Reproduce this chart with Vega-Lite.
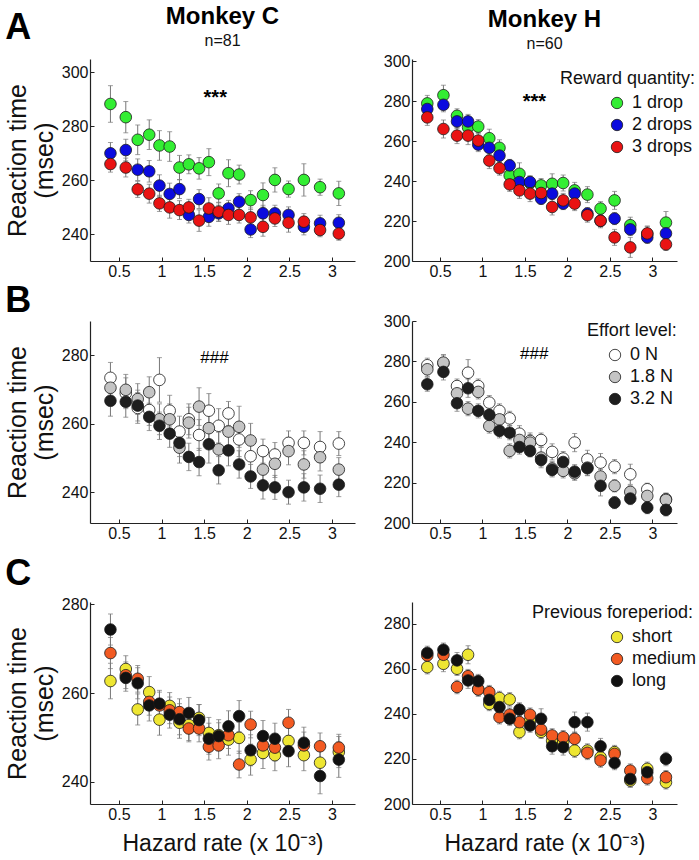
{
"$schema":"https://vega.github.io/schema/vega-lite/v6.json",
"padding":{"left":5,"top":5,"right":0,"bottom":0},
"datasets":{
"aL":[
{"x":0.40,"rt":288.3,"se":6.8,"g":"1 drop"},{"x":0.58,"rt":283.4,"se":5.8,"g":"1 drop"},{"x":0.72,"rt":275.0,"se":5.5,"g":"1 drop"},{"x":0.855,"rt":276.9,"se":5.5,"g":"1 drop"},{"x":0.975,"rt":272.9,"se":5.5,"g":"1 drop"},{"x":1.095,"rt":272.5,"se":5.5,"g":"1 drop"},{"x":1.21,"rt":264.7,"se":4.5,"g":"1 drop"},{"x":1.32,"rt":265.9,"se":3.5,"g":"1 drop"},{"x":1.44,"rt":264.4,"se":4.0,"g":"1 drop"},{"x":1.555,"rt":266.7,"se":5.0,"g":"1 drop"},{"x":1.67,"rt":255.1,"se":3.5,"g":"1 drop"},{"x":1.785,"rt":262.6,"se":5.0,"g":"1 drop"},{"x":1.91,"rt":262.1,"se":3.5,"g":"1 drop"},{"x":2.045,"rt":252.6,"se":3.5,"g":"1 drop"},{"x":2.19,"rt":254.5,"se":4.5,"g":"1 drop"},{"x":2.33,"rt":260.1,"se":4.5,"g":"1 drop"},{"x":2.49,"rt":256.7,"se":3.0,"g":"1 drop"},{"x":2.67,"rt":260.1,"se":6.0,"g":"1 drop"},{"x":2.86,"rt":257.4,"se":3.0,"g":"1 drop"},{"x":3.08,"rt":255.1,"se":4.5,"g":"1 drop"},
{"x":0.40,"rt":270.0,"se":4.0,"g":"2 drops"},{"x":0.58,"rt":271.2,"se":4.0,"g":"2 drops"},{"x":0.72,"rt":263.9,"se":4.0,"g":"2 drops"},{"x":0.855,"rt":263.3,"se":4.0,"g":"2 drops"},{"x":0.975,"rt":258.0,"se":4.0,"g":"2 drops"},{"x":1.095,"rt":254.9,"se":4.0,"g":"2 drops"},{"x":1.21,"rt":256.7,"se":3.5,"g":"2 drops"},{"x":1.32,"rt":247.1,"se":3.0,"g":"2 drops"},{"x":1.44,"rt":253.0,"se":3.5,"g":"2 drops"},{"x":1.555,"rt":246.4,"se":3.5,"g":"2 drops"},{"x":1.67,"rt":247.7,"se":3.0,"g":"2 drops"},{"x":1.785,"rt":249.5,"se":3.0,"g":"2 drops"},{"x":1.91,"rt":252.0,"se":3.0,"g":"2 drops"},{"x":2.045,"rt":241.7,"se":3.0,"g":"2 drops"},{"x":2.19,"rt":247.7,"se":3.0,"g":"2 drops"},{"x":2.33,"rt":247.7,"se":3.0,"g":"2 drops"},{"x":2.49,"rt":247.1,"se":3.0,"g":"2 drops"},{"x":2.67,"rt":242.7,"se":3.0,"g":"2 drops"},{"x":2.86,"rt":244.0,"se":3.0,"g":"2 drops"},{"x":3.08,"rt":244.2,"se":3.0,"g":"2 drops"},
{"x":0.40,"rt":266.0,"se":3.0,"g":"3 drops"},{"x":0.58,"rt":264.7,"se":3.5,"g":"3 drops"},{"x":0.72,"rt":256.6,"se":3.0,"g":"3 drops"},{"x":0.855,"rt":255.0,"se":3.5,"g":"3 drops"},{"x":0.975,"rt":251.4,"se":3.0,"g":"3 drops"},{"x":1.095,"rt":249.9,"se":4.0,"g":"3 drops"},{"x":1.21,"rt":248.9,"se":3.5,"g":"3 drops"},{"x":1.32,"rt":249.9,"se":3.0,"g":"3 drops"},{"x":1.44,"rt":245.0,"se":4.0,"g":"3 drops"},{"x":1.555,"rt":249.5,"se":4.0,"g":"3 drops"},{"x":1.67,"rt":248.3,"se":3.5,"g":"3 drops"},{"x":1.785,"rt":247.1,"se":3.5,"g":"3 drops"},{"x":1.91,"rt":247.1,"se":3.0,"g":"3 drops"},{"x":2.045,"rt":246.2,"se":3.5,"g":"3 drops"},{"x":2.19,"rt":242.7,"se":3.5,"g":"3 drops"},{"x":2.33,"rt":245.8,"se":3.0,"g":"3 drops"},{"x":2.49,"rt":244.2,"se":3.5,"g":"3 drops"},{"x":2.67,"rt":244.6,"se":3.0,"g":"3 drops"},{"x":2.86,"rt":241.5,"se":2.5,"g":"3 drops"},{"x":3.08,"rt":240.2,"se":2.5,"g":"3 drops"}
],
"aR":[
{"x":0.35,"rt":278.8,"se":4.0,"g":"1 drop"},{"x":0.54,"rt":282.9,"se":5.0,"g":"1 drop"},{"x":0.70,"rt":272.6,"se":3.5,"g":"1 drop"},{"x":0.83,"rt":266.8,"se":5.0,"g":"1 drop"},{"x":0.95,"rt":267.2,"se":3.5,"g":"1 drop"},{"x":1.08,"rt":261.4,"se":4.5,"g":"1 drop"},{"x":1.20,"rt":256.6,"se":4.0,"g":"1 drop"},{"x":1.32,"rt":242.8,"se":3.5,"g":"1 drop"},{"x":1.435,"rt":243.6,"se":5.5,"g":"1 drop"},{"x":1.56,"rt":239.0,"se":3.5,"g":"1 drop"},{"x":1.69,"rt":237.8,"se":3.5,"g":"1 drop"},{"x":1.82,"rt":238.6,"se":5.0,"g":"1 drop"},{"x":1.95,"rt":239.0,"se":4.0,"g":"1 drop"},{"x":2.085,"rt":235.3,"se":4.0,"g":"1 drop"},{"x":2.235,"rt":233.2,"se":4.0,"g":"1 drop"},{"x":2.39,"rt":226.2,"se":3.5,"g":"1 drop"},{"x":2.555,"rt":230.3,"se":4.5,"g":"1 drop"},{"x":2.74,"rt":217.9,"se":4.0,"g":"1 drop"},{"x":2.94,"rt":213.5,"se":4.0,"g":"1 drop"},{"x":3.16,"rt":219.2,"se":5.5,"g":"1 drop"},
{"x":0.35,"rt":276.0,"se":3.5,"g":"2 drops"},{"x":0.54,"rt":278.1,"se":3.5,"g":"2 drops"},{"x":0.70,"rt":269.8,"se":3.5,"g":"2 drops"},{"x":0.83,"rt":269.8,"se":3.5,"g":"2 drops"},{"x":0.95,"rt":258.2,"se":3.5,"g":"2 drops"},{"x":1.08,"rt":256.6,"se":3.5,"g":"2 drops"},{"x":1.20,"rt":252.7,"se":3.5,"g":"2 drops"},{"x":1.32,"rt":247.8,"se":3.0,"g":"2 drops"},{"x":1.435,"rt":239.5,"se":3.0,"g":"2 drops"},{"x":1.56,"rt":239.5,"se":3.0,"g":"2 drops"},{"x":1.69,"rt":231.2,"se":3.0,"g":"2 drops"},{"x":1.82,"rt":233.7,"se":3.0,"g":"2 drops"},{"x":1.95,"rt":228.7,"se":3.0,"g":"2 drops"},{"x":2.085,"rt":233.7,"se":3.0,"g":"2 drops"},{"x":2.235,"rt":223.7,"se":3.0,"g":"2 drops"},{"x":2.39,"rt":220.1,"se":3.0,"g":"2 drops"},{"x":2.555,"rt":221.2,"se":3.0,"g":"2 drops"},{"x":2.74,"rt":215.8,"se":3.0,"g":"2 drops"},{"x":2.94,"rt":211.8,"se":3.0,"g":"2 drops"},{"x":3.16,"rt":213.8,"se":3.0,"g":"2 drops"},
{"x":0.35,"rt":271.8,"se":4.0,"g":"3 drops"},{"x":0.54,"rt":266.0,"se":4.5,"g":"3 drops"},{"x":0.70,"rt":262.7,"se":4.0,"g":"3 drops"},{"x":0.83,"rt":262.7,"se":4.5,"g":"3 drops"},{"x":0.95,"rt":260.2,"se":4.0,"g":"3 drops"},{"x":1.08,"rt":250.2,"se":4.0,"g":"3 drops"},{"x":1.20,"rt":246.4,"se":3.5,"g":"3 drops"},{"x":1.32,"rt":238.3,"se":3.5,"g":"3 drops"},{"x":1.435,"rt":235.3,"se":4.0,"g":"3 drops"},{"x":1.56,"rt":233.7,"se":4.0,"g":"3 drops"},{"x":1.69,"rt":234.0,"se":3.5,"g":"3 drops"},{"x":1.82,"rt":227.0,"se":4.0,"g":"3 drops"},{"x":1.95,"rt":230.3,"se":3.5,"g":"3 drops"},{"x":2.085,"rt":228.7,"se":3.5,"g":"3 drops"},{"x":2.235,"rt":222.9,"se":3.5,"g":"3 drops"},{"x":2.39,"rt":220.1,"se":3.5,"g":"3 drops"},{"x":2.555,"rt":211.8,"se":4.0,"g":"3 drops"},{"x":2.74,"rt":206.8,"se":5.0,"g":"3 drops"},{"x":2.94,"rt":213.8,"se":3.5,"g":"3 drops"},{"x":3.16,"rt":208.3,"se":3.0,"g":"3 drops"}
],
"bL":[
{"x":0.40,"rt":273.4,"se":4.5,"g":"0 N"},{"x":0.58,"rt":268.9,"se":4.5,"g":"0 N"},{"x":0.72,"rt":264.6,"se":4.5,"g":"0 N"},{"x":0.855,"rt":264.0,"se":4.5,"g":"0 N"},{"x":0.975,"rt":272.8,"se":6.5,"g":"0 N"},{"x":1.095,"rt":263.8,"se":4.5,"g":"0 N"},{"x":1.21,"rt":257.7,"se":4.5,"g":"0 N"},{"x":1.32,"rt":261.3,"se":4.5,"g":"0 N"},{"x":1.44,"rt":256.7,"se":4.5,"g":"0 N"},{"x":1.555,"rt":263.8,"se":5.0,"g":"0 N"},{"x":1.67,"rt":259.4,"se":5.0,"g":"0 N"},{"x":1.785,"rt":263.0,"se":3.5,"g":"0 N"},{"x":1.91,"rt":255.4,"se":5.0,"g":"0 N"},{"x":2.045,"rt":250.5,"se":4.5,"g":"0 N"},{"x":2.19,"rt":252.0,"se":3.5,"g":"0 N"},{"x":2.33,"rt":251.0,"se":3.5,"g":"0 N"},{"x":2.49,"rt":254.4,"se":3.5,"g":"0 N"},{"x":2.67,"rt":254.4,"se":3.5,"g":"0 N"},{"x":2.86,"rt":253.2,"se":4.5,"g":"0 N"},{"x":3.08,"rt":254.2,"se":3.5,"g":"0 N"},
{"x":0.40,"rt":270.5,"se":4.0,"g":"1.8 N"},{"x":0.58,"rt":269.9,"se":4.5,"g":"1.8 N"},{"x":0.72,"rt":267.2,"se":4.5,"g":"1.8 N"},{"x":0.855,"rt":269.2,"se":4.5,"g":"1.8 N"},{"x":0.975,"rt":261.3,"se":4.5,"g":"1.8 N"},{"x":1.095,"rt":261.3,"se":4.5,"g":"1.8 N"},{"x":1.21,"rt":253.0,"se":4.5,"g":"1.8 N"},{"x":1.32,"rt":260.3,"se":4.5,"g":"1.8 N"},{"x":1.44,"rt":265.0,"se":5.5,"g":"1.8 N"},{"x":1.555,"rt":258.7,"se":4.5,"g":"1.8 N"},{"x":1.67,"rt":252.5,"se":5.0,"g":"1.8 N"},{"x":1.785,"rt":257.7,"se":5.0,"g":"1.8 N"},{"x":1.91,"rt":259.1,"se":6.0,"g":"1.8 N"},{"x":2.045,"rt":255.1,"se":5.0,"g":"1.8 N"},{"x":2.19,"rt":246.6,"se":4.0,"g":"1.8 N"},{"x":2.33,"rt":248.3,"se":4.0,"g":"1.8 N"},{"x":2.49,"rt":252.0,"se":4.0,"g":"1.8 N"},{"x":2.67,"rt":248.1,"se":4.0,"g":"1.8 N"},{"x":2.86,"rt":250.2,"se":4.0,"g":"1.8 N"},{"x":3.08,"rt":246.6,"se":3.5,"g":"1.8 N"},
{"x":0.40,"rt":266.7,"se":4.5,"g":"3.2 N"},{"x":0.58,"rt":266.4,"se":4.5,"g":"3.2 N"},{"x":0.72,"rt":265.3,"se":4.5,"g":"3.2 N"},{"x":0.855,"rt":262.0,"se":4.0,"g":"3.2 N"},{"x":0.975,"rt":259.4,"se":4.0,"g":"3.2 N"},{"x":1.095,"rt":257.1,"se":4.0,"g":"3.2 N"},{"x":1.21,"rt":254.4,"se":4.0,"g":"3.2 N"},{"x":1.32,"rt":250.3,"se":4.0,"g":"3.2 N"},{"x":1.44,"rt":248.8,"se":4.0,"g":"3.2 N"},{"x":1.555,"rt":254.0,"se":5.5,"g":"3.2 N"},{"x":1.67,"rt":246.4,"se":4.0,"g":"3.2 N"},{"x":1.785,"rt":252.2,"se":4.5,"g":"3.2 N"},{"x":1.91,"rt":248.1,"se":4.0,"g":"3.2 N"},{"x":2.045,"rt":244.6,"se":3.5,"g":"3.2 N"},{"x":2.19,"rt":242.0,"se":4.0,"g":"3.2 N"},{"x":2.33,"rt":241.4,"se":3.5,"g":"3.2 N"},{"x":2.49,"rt":240.0,"se":3.5,"g":"3.2 N"},{"x":2.67,"rt":241.4,"se":4.0,"g":"3.2 N"},{"x":2.86,"rt":241.0,"se":4.0,"g":"3.2 N"},{"x":3.08,"rt":242.2,"se":3.5,"g":"3.2 N"}
],
"bR":[
{"x":0.35,"rt":278.1,"se":3.5,"g":"0 N"},{"x":0.54,"rt":279.1,"se":4.0,"g":"0 N"},{"x":0.70,"rt":267.8,"se":3.5,"g":"0 N"},{"x":0.83,"rt":274.4,"se":6.5,"g":"0 N"},{"x":0.95,"rt":267.8,"se":3.5,"g":"0 N"},{"x":1.08,"rt":259.6,"se":3.5,"g":"0 N"},{"x":1.20,"rt":255.5,"se":3.5,"g":"0 N"},{"x":1.32,"rt":251.8,"se":3.5,"g":"0 N"},{"x":1.435,"rt":244.2,"se":4.0,"g":"0 N"},{"x":1.56,"rt":240.6,"se":4.0,"g":"0 N"},{"x":1.69,"rt":241.1,"se":3.5,"g":"0 N"},{"x":1.82,"rt":235.2,"se":4.0,"g":"0 N"},{"x":1.95,"rt":231.9,"se":3.5,"g":"0 N"},{"x":2.085,"rt":239.8,"se":4.5,"g":"0 N"},{"x":2.235,"rt":231.5,"se":4.5,"g":"0 N"},{"x":2.39,"rt":229.9,"se":4.5,"g":"0 N"},{"x":2.555,"rt":227.9,"se":3.5,"g":"0 N"},{"x":2.74,"rt":224.1,"se":5.0,"g":"0 N"},{"x":2.94,"rt":216.7,"se":3.0,"g":"0 N"},{"x":3.16,"rt":211.8,"se":3.0,"g":"0 N"},
{"x":0.35,"rt":276.1,"se":3.5,"g":"1.8 N"},{"x":0.54,"rt":279.4,"se":4.0,"g":"1.8 N"},{"x":0.70,"rt":264.2,"se":3.5,"g":"1.8 N"},{"x":0.83,"rt":256.6,"se":3.5,"g":"1.8 N"},{"x":0.95,"rt":264.9,"se":3.5,"g":"1.8 N"},{"x":1.08,"rt":248.0,"se":3.5,"g":"1.8 N"},{"x":1.20,"rt":251.3,"se":3.5,"g":"1.8 N"},{"x":1.32,"rt":235.7,"se":3.5,"g":"1.8 N"},{"x":1.435,"rt":241.1,"se":3.5,"g":"1.8 N"},{"x":1.56,"rt":239.8,"se":4.0,"g":"1.8 N"},{"x":1.69,"rt":232.4,"se":5.0,"g":"1.8 N"},{"x":1.82,"rt":226.9,"se":3.5,"g":"1.8 N"},{"x":1.95,"rt":225.8,"se":3.5,"g":"1.8 N"},{"x":2.085,"rt":224.6,"se":3.5,"g":"1.8 N"},{"x":2.235,"rt":227.4,"se":4.0,"g":"1.8 N"},{"x":2.39,"rt":223.0,"se":3.5,"g":"1.8 N"},{"x":2.555,"rt":218.4,"se":3.0,"g":"1.8 N"},{"x":2.74,"rt":215.4,"se":3.0,"g":"1.8 N"},{"x":2.94,"rt":213.4,"se":3.0,"g":"1.8 N"},{"x":3.16,"rt":211.4,"se":3.0,"g":"1.8 N"},
{"x":0.35,"rt":268.7,"se":3.5,"g":"3.2 N"},{"x":0.54,"rt":274.8,"se":4.0,"g":"3.2 N"},{"x":0.70,"rt":259.3,"se":4.0,"g":"3.2 N"},{"x":0.83,"rt":266.7,"se":4.5,"g":"3.2 N"},{"x":0.95,"rt":255.5,"se":3.5,"g":"3.2 N"},{"x":1.08,"rt":253.5,"se":3.5,"g":"3.2 N"},{"x":1.20,"rt":245.6,"se":3.5,"g":"3.2 N"},{"x":1.32,"rt":244.7,"se":3.5,"g":"3.2 N"},{"x":1.435,"rt":237.6,"se":3.5,"g":"3.2 N"},{"x":1.56,"rt":235.7,"se":3.0,"g":"3.2 N"},{"x":1.69,"rt":231.2,"se":3.0,"g":"3.2 N"},{"x":1.82,"rt":226.3,"se":3.5,"g":"3.2 N"},{"x":1.95,"rt":230.2,"se":3.0,"g":"3.2 N"},{"x":2.085,"rt":225.4,"se":3.5,"g":"3.2 N"},{"x":2.235,"rt":227.1,"se":3.5,"g":"3.2 N"},{"x":2.39,"rt":218.4,"se":5.0,"g":"3.2 N"},{"x":2.555,"rt":210.1,"se":3.0,"g":"3.2 N"},{"x":2.74,"rt":212.1,"se":3.0,"g":"3.2 N"},{"x":2.94,"rt":207.6,"se":3.0,"g":"3.2 N"},{"x":3.16,"rt":206.5,"se":3.0,"g":"3.2 N"}
],
"cL":[
{"x":0.40,"rt":262.7,"se":4.0,"g":"short"},{"x":0.58,"rt":265.4,"se":3.0,"g":"short"},{"x":0.72,"rt":256.3,"se":3.5,"g":"short"},{"x":0.855,"rt":260.2,"se":3.5,"g":"short"},{"x":0.975,"rt":254.0,"se":3.5,"g":"short"},{"x":1.095,"rt":257.1,"se":3.0,"g":"short"},{"x":1.21,"rt":253.3,"se":3.5,"g":"short"},{"x":1.32,"rt":252.8,"se":3.5,"g":"short"},{"x":1.44,"rt":254.4,"se":3.0,"g":"short"},{"x":1.555,"rt":251.0,"se":3.5,"g":"short"},{"x":1.67,"rt":250.5,"se":3.5,"g":"short"},{"x":1.785,"rt":249.5,"se":3.5,"g":"short"},{"x":1.91,"rt":249.9,"se":3.5,"g":"short"},{"x":2.045,"rt":245.0,"se":3.5,"g":"short"},{"x":2.19,"rt":246.5,"se":3.5,"g":"short"},{"x":2.33,"rt":246.0,"se":3.5,"g":"short"},{"x":2.49,"rt":249.2,"se":3.5,"g":"short"},{"x":2.67,"rt":246.0,"se":3.5,"g":"short"},{"x":2.86,"rt":244.3,"se":3.5,"g":"short"},{"x":3.08,"rt":246.7,"se":3.5,"g":"short"},
{"x":0.40,"rt":269.0,"se":3.5,"g":"medium"},{"x":0.58,"rt":264.0,"se":3.0,"g":"medium"},{"x":0.72,"rt":263.2,"se":3.0,"g":"medium"},{"x":0.855,"rt":258.0,"se":3.0,"g":"medium"},{"x":0.975,"rt":257.2,"se":3.0,"g":"medium"},{"x":1.095,"rt":256.1,"se":3.0,"g":"medium"},{"x":1.21,"rt":255.7,"se":3.0,"g":"medium"},{"x":1.32,"rt":252.0,"se":3.0,"g":"medium"},{"x":1.44,"rt":252.0,"se":3.0,"g":"medium"},{"x":1.555,"rt":247.9,"se":3.0,"g":"medium"},{"x":1.67,"rt":248.2,"se":3.0,"g":"medium"},{"x":1.785,"rt":250.5,"se":3.0,"g":"medium"},{"x":1.91,"rt":243.9,"se":3.0,"g":"medium"},{"x":2.045,"rt":252.9,"se":3.0,"g":"medium"},{"x":2.19,"rt":248.2,"se":3.0,"g":"medium"},{"x":2.33,"rt":247.7,"se":3.0,"g":"medium"},{"x":2.49,"rt":253.3,"se":3.0,"g":"medium"},{"x":2.67,"rt":248.2,"se":3.0,"g":"medium"},{"x":2.86,"rt":248.0,"se":3.0,"g":"medium"},{"x":3.08,"rt":247.7,"se":3.0,"g":"medium"},
{"x":0.40,"rt":274.3,"se":3.5,"g":"long"},{"x":0.58,"rt":263.4,"se":3.0,"g":"long"},{"x":0.72,"rt":262.2,"se":3.5,"g":"long"},{"x":0.855,"rt":257.2,"se":3.5,"g":"long"},{"x":0.975,"rt":257.6,"se":3.0,"g":"long"},{"x":1.095,"rt":255.1,"se":3.0,"g":"long"},{"x":1.21,"rt":254.1,"se":3.5,"g":"long"},{"x":1.32,"rt":255.5,"se":3.5,"g":"long"},{"x":1.44,"rt":253.9,"se":3.5,"g":"long"},{"x":1.555,"rt":249.7,"se":3.5,"g":"long"},{"x":1.67,"rt":250.3,"se":3.0,"g":"long"},{"x":1.785,"rt":252.5,"se":3.5,"g":"long"},{"x":1.91,"rt":254.8,"se":3.5,"g":"long"},{"x":2.045,"rt":247.1,"se":3.5,"g":"long"},{"x":2.19,"rt":250.3,"se":3.5,"g":"long"},{"x":2.33,"rt":249.7,"se":3.5,"g":"long"},{"x":2.49,"rt":246.9,"se":3.5,"g":"long"},{"x":2.67,"rt":248.8,"se":3.5,"g":"long"},{"x":2.86,"rt":241.3,"se":4.0,"g":"long"},{"x":3.08,"rt":245.0,"se":4.0,"g":"long"}
],
"cR":[
{"x":0.35,"rt":260.7,"se":3.0,"g":"short"},{"x":0.54,"rt":262.2,"se":3.5,"g":"short"},{"x":0.70,"rt":260.0,"se":3.0,"g":"short"},{"x":0.83,"rt":266.2,"se":4.0,"g":"short"},{"x":0.95,"rt":251.0,"se":3.0,"g":"short"},{"x":1.08,"rt":244.4,"se":3.0,"g":"short"},{"x":1.20,"rt":247.0,"se":3.0,"g":"short"},{"x":1.32,"rt":246.4,"se":3.0,"g":"short"},{"x":1.435,"rt":231.9,"se":3.0,"g":"short"},{"x":1.56,"rt":237.0,"se":3.0,"g":"short"},{"x":1.69,"rt":232.0,"se":3.0,"g":"short"},{"x":1.82,"rt":228.0,"se":3.0,"g":"short"},{"x":1.95,"rt":227.5,"se":3.0,"g":"short"},{"x":2.085,"rt":223.7,"se":3.0,"g":"short"},{"x":2.235,"rt":223.7,"se":3.0,"g":"short"},{"x":2.39,"rt":220.7,"se":3.0,"g":"short"},{"x":2.555,"rt":223.0,"se":3.0,"g":"short"},{"x":2.74,"rt":210.4,"se":3.0,"g":"short"},{"x":2.94,"rt":215.6,"se":3.0,"g":"short"},{"x":3.16,"rt":209.6,"se":3.0,"g":"short"},
{"x":0.35,"rt":265.9,"se":3.0,"g":"medium"},{"x":0.54,"rt":266.2,"se":3.0,"g":"medium"},{"x":0.70,"rt":251.9,"se":3.0,"g":"medium"},{"x":0.83,"rt":256.7,"se":3.0,"g":"medium"},{"x":0.95,"rt":250.8,"se":3.0,"g":"medium"},{"x":1.08,"rt":249.6,"se":3.0,"g":"medium"},{"x":1.20,"rt":238.5,"se":3.0,"g":"medium"},{"x":1.32,"rt":239.6,"se":3.0,"g":"medium"},{"x":1.435,"rt":236.3,"se":3.0,"g":"medium"},{"x":1.56,"rt":239.6,"se":3.0,"g":"medium"},{"x":1.69,"rt":233.0,"se":3.0,"g":"medium"},{"x":1.82,"rt":230.4,"se":3.0,"g":"medium"},{"x":1.95,"rt":229.6,"se":3.0,"g":"medium"},{"x":2.085,"rt":228.9,"se":3.0,"g":"medium"},{"x":2.235,"rt":222.7,"se":3.0,"g":"medium"},{"x":2.39,"rt":219.3,"se":3.0,"g":"medium"},{"x":2.555,"rt":222.2,"se":3.0,"g":"medium"},{"x":2.74,"rt":214.8,"se":3.0,"g":"medium"},{"x":2.94,"rt":211.4,"se":3.0,"g":"medium"},{"x":3.16,"rt":211.9,"se":3.0,"g":"medium"},
{"x":0.35,"rt":267.0,"se":3.0,"g":"long"},{"x":0.54,"rt":268.4,"se":3.0,"g":"long"},{"x":0.70,"rt":263.7,"se":3.5,"g":"long"},{"x":0.83,"rt":254.8,"se":3.5,"g":"long"},{"x":0.95,"rt":254.5,"se":3.0,"g":"long"},{"x":1.08,"rt":246.2,"se":3.0,"g":"long"},{"x":1.20,"rt":243.0,"se":3.0,"g":"long"},{"x":1.32,"rt":237.8,"se":3.0,"g":"long"},{"x":1.435,"rt":241.9,"se":3.0,"g":"long"},{"x":1.56,"rt":234.8,"se":3.0,"g":"long"},{"x":1.69,"rt":237.8,"se":4.5,"g":"long"},{"x":1.82,"rt":225.6,"se":3.5,"g":"long"},{"x":1.95,"rt":225.2,"se":3.5,"g":"long"},{"x":2.085,"rt":236.3,"se":4.5,"g":"long"},{"x":2.235,"rt":236.3,"se":4.0,"g":"long"},{"x":2.39,"rt":225.6,"se":3.5,"g":"long"},{"x":2.555,"rt":218.2,"se":3.0,"g":"long"},{"x":2.74,"rt":211.1,"se":3.5,"g":"long"},{"x":2.94,"rt":214.1,"se":3.5,"g":"long"},{"x":3.16,"rt":220.0,"se":3.0,"g":"long"}
]
},
"vconcat":[
{"title":{"text":"A","anchor":"start","frame":"bounds","fontSize":36,"fontWeight":"bold","offset":-42,"color":"#000"},
 "spacing":28,
 "resolve":{"scale":{"color":"independent"},"legend":{"color":"independent"}},
 "hconcat":[
 {"width":265,"height":202,"data":{"name":"aL"},
  "title":{"text":"Monkey C","subtitle":"n=81","fontSize":24,"fontWeight":"bold","subtitleFontSize":16,"subtitlePadding":4,"offset":10,"anchor":"middle","color":"#000","subtitleColor":"#111"},
  "encoding":{
   "x":{"field":"x","type":"quantitative","scale":{"domain":[0.16,3.27],"nice":false,"zero":false},"axis":{"values":[0.5,1,1.5,2,2.5,3],"format":"~g","title":null}},
   "y":{"field":"rt","type":"quantitative","scale":{"domain":[230,305],"nice":false,"zero":false},"axis":{"values":[240,260,280,300],"title":["Reaction time","(msec)"]}}},
  "layer":[
   {"mark":{"type":"errorbar","ticks":true,"color":"#777","thickness":1,"size":5},"encoding":{"yError":{"field":"se"}}},
   {"mark":{"type":"circle","size":135,"opacity":1,"stroke":"#1a1a1a","strokeWidth":0.8},"encoding":{"color":{"field":"g","type":"nominal","scale":{"domain":["1 drop","2 drops","3 drops"],"range":["#33ee33","#0b0bde","#e91313"]},"legend":null}}},
   {"data":{"values":[{"x":1.63,"rt":290.5,"t":"***"}]},"mark":{"type":"text","fontSize":20,"fontWeight":"bold","baseline":"middle","color":"#000"},"encoding":{"text":{"field":"t"}}}
  ]},
 {"width":265,"height":202,"data":{"name":"aR"},
  "title":{"text":"Monkey H","subtitle":"n=60","fontSize":24,"fontWeight":"bold","subtitleFontSize":16,"subtitlePadding":4,"offset":1,"anchor":"middle","color":"#000","subtitleColor":"#111"},
  "encoding":{
   "x":{"field":"x","type":"quantitative","scale":{"domain":[0.17,3.29],"nice":false,"zero":false},"axis":{"values":[0.5,1,1.5,2,2.5,3],"format":"~g","title":null}},
   "y":{"field":"rt","type":"quantitative","scale":{"domain":[200,301],"nice":false,"zero":false},"axis":{"values":[200,220,240,260,280,300],"title":null}}},
  "layer":[
   {"mark":{"type":"errorbar","ticks":true,"color":"#777","thickness":1,"size":5},"encoding":{"yError":{"field":"se"}}},
   {"mark":{"type":"circle","size":135,"opacity":1,"stroke":"#1a1a1a","strokeWidth":0.8},"encoding":{"color":{"field":"g","type":"nominal","title":"Reward quantity:","scale":{"domain":["1 drop","2 drops","3 drops"],"range":["#33ee33","#0b0bde","#e91313"]},"legend":{"orient":"none","legendX":148,"legendY":11,"symbolOffset":48}}}},
   {"data":{"values":[{"x":1.61,"rt":279.6,"t":"***"}]},"mark":{"type":"text","fontSize":20,"fontWeight":"bold","baseline":"middle","color":"#000"},"encoding":{"text":{"field":"t"}}}
  ]}
 ]},
{"title":{"text":"B","anchor":"start","frame":"bounds","fontSize":36,"fontWeight":"bold","offset":-7,"color":"#000"},
 "spacing":28,
 "resolve":{"scale":{"color":"independent"},"legend":{"color":"independent"}},
 "hconcat":[
 {"width":265,"height":202,"data":{"name":"bL"},
  "encoding":{
   "x":{"field":"x","type":"quantitative","scale":{"domain":[0.16,3.27],"nice":false,"zero":false},"axis":{"values":[0.5,1,1.5,2,2.5,3],"format":"~g","title":null}},
   "y":{"field":"rt","type":"quantitative","scale":{"domain":[231,290],"nice":false,"zero":false},"axis":{"values":[240,260,280],"title":["Reaction time","(msec)"]}}},
  "layer":[
   {"mark":{"type":"errorbar","ticks":true,"color":"#777","thickness":1,"size":5},"encoding":{"yError":{"field":"se"}}},
   {"mark":{"type":"circle","size":135,"opacity":1,"stroke":"#1a1a1a","strokeWidth":0.8},"encoding":{"color":{"field":"g","type":"nominal","scale":{"domain":["0 N","1.8 N","3.2 N"],"range":["#ffffff","#c4c4c4","#1e1e1e"]},"legend":null}}},
   {"data":{"values":[{"x":1.62,"rt":279.1,"t":"###"}]},"mark":{"type":"text","fontSize":17,"baseline":"middle","color":"#000"},"encoding":{"text":{"field":"t"}}}
  ]},
 {"width":265,"height":202,"data":{"name":"bR"},
  "encoding":{
   "x":{"field":"x","type":"quantitative","scale":{"domain":[0.17,3.29],"nice":false,"zero":false},"axis":{"values":[0.5,1,1.5,2,2.5,3],"format":"~g","title":null}},
   "y":{"field":"rt","type":"quantitative","scale":{"domain":[200,300],"nice":false,"zero":false},"axis":{"values":[200,220,240,260,280,300],"title":null}}},
  "layer":[
   {"mark":{"type":"errorbar","ticks":true,"color":"#777","thickness":1,"size":5},"encoding":{"yError":{"field":"se"}}},
   {"mark":{"type":"circle","size":135,"opacity":1,"stroke":"#1a1a1a","strokeWidth":0.8},"encoding":{"color":{"field":"g","type":"nominal","title":"Effort level:","scale":{"domain":["0 N","1.8 N","3.2 N"],"range":["#ffffff","#c4c4c4","#1e1e1e"]},"legend":{"orient":"none","legendX":175,"legendY":1,"symbolOffset":19}}}},
   {"data":{"values":[{"x":1.61,"rt":283.5,"t":"###"}]},"mark":{"type":"text","fontSize":17,"baseline":"middle","color":"#000"},"encoding":{"text":{"field":"t"}}}
  ]}
 ]},
{"title":{"text":["","C"],"lineHeight":11,"anchor":"start","frame":"bounds","fontSize":36,"fontWeight":"bold","offset":3,"color":"#000"},
 "spacing":28,
 "resolve":{"scale":{"color":"independent"},"legend":{"color":"independent"}},
 "hconcat":[
 {"width":265,"height":202,"data":{"name":"cL"},
  "encoding":{
   "x":{"field":"x","type":"quantitative","scale":{"domain":[0.16,3.27],"nice":false,"zero":false},"axis":{"values":[0.5,1,1.5,2,2.5,3],"format":"~g","title":"Hazard rate (x 10⁻³)"}},
   "y":{"field":"rt","type":"quantitative","scale":{"domain":[235,280.5],"nice":false,"zero":false},"axis":{"values":[240,260,280],"title":["Reaction time","(msec)"]}}},
  "layer":[
   {"mark":{"type":"errorbar","ticks":true,"color":"#777","thickness":1,"size":5},"encoding":{"yError":{"field":"se"}}},
   {"mark":{"type":"circle","size":135,"opacity":1,"stroke":"#1a1a1a","strokeWidth":0.8},"encoding":{"color":{"field":"g","type":"nominal","scale":{"domain":["short","medium","long"],"range":["#eee632","#f25a22","#111111"]},"legend":null}}}
  ]},
 {"width":265,"height":202,"data":{"name":"cR"},
  "encoding":{
   "x":{"field":"x","type":"quantitative","scale":{"domain":[0.17,3.29],"nice":false,"zero":false},"axis":{"values":[0.5,1,1.5,2,2.5,3],"format":"~g","title":"Hazard rate (x 10⁻³)"}},
   "y":{"field":"rt","type":"quantitative","scale":{"domain":[200,289.6],"nice":false,"zero":false},"axis":{"values":[200,220,240,260,280],"title":null}}},
  "layer":[
   {"mark":{"type":"errorbar","ticks":true,"color":"#777","thickness":1,"size":5},"encoding":{"yError":{"field":"se"}}},
   {"mark":{"type":"circle","size":135,"opacity":1,"stroke":"#1a1a1a","strokeWidth":0.8},"encoding":{"color":{"field":"g","type":"nominal","title":"Previous foreperiod:","scale":{"domain":["short","medium","long"],"range":["#eee632","#f25a22","#111111"]},"legend":{"orient":"none","legendX":120,"legendY":2,"symbolOffset":76}}}}
  ]}
 ]}
],
"spacing":4,
"resolve":{"scale":{"color":"independent"},"legend":{"color":"independent"}},
"config":{
 "font":"Liberation Sans",
 "view":{"stroke":null},
 "axis":{"grid":false,"domainColor":"#222","domainWidth":1.2,"tickColor":"#222","tickSize":-4,"labelPadding":6,"labelFontSize":16,"labelColor":"#111","labelFlush":false,"labelOverlap":false,"titleFontSize":25,"titleFontWeight":"normal","titleColor":"#111","titlePadding":4},
 "axisX":{"titleFontSize":23,"titlePadding":10},
 "legend":{"titleFontSize":18,"titleFontWeight":"normal","titleColor":"#111","labelFontSize":18,"labelColor":"#111","symbolType":"circle","symbolSize":130,"symbolStrokeColor":"#1a1a1a","symbolStrokeWidth":0.8,"rowPadding":4,"titlePadding":6,"labelOffset":6},
 "title":{"font":"Liberation Sans","subtitleFont":"Liberation Sans"}
}
}
